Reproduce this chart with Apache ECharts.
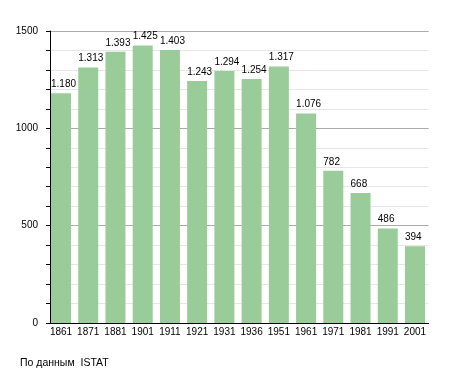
<!DOCTYPE html>
<html><head><meta charset="utf-8">
<script src="https://cdn.jsdelivr.net/npm/echarts@6/dist/echarts.min.js"></script>
<style>html,body{margin:0;padding:0;background:#fff}#c{width:455px;height:373px}</style>
</head><body><div id="c"></div>
<script>
const years = ['1861','1871','1881','1901','1911','1921','1931','1936','1951','1961','1971','1981','1991','2001'];
const population = [1180,1313,1393,1425,1403,1243,1294,1254,1317,1076,782,668,486,394];
const yTicks = [0,500,1000,1500];
const sourceNote = 'По данным  ISTAT';

function fmt(v){ return v >= 1000 ? Math.floor(v/1000) + '.' + String(v%1000).padStart(3,'0') : String(v); }

const FONT = 'Liberation Sans, Arial, sans-serif';
const chart = echarts.init(document.getElementById('c'), null, {renderer:'canvas'});
chart.setOption({
  animation:false,
  textStyle:{fontFamily:FONT},
  grid:{left:47.4, right:26.4, top:31, bottom:50},
  xAxis:{
    type:'category', data:years,
    axisLine:{lineStyle:{color:'#000', width:1}},
    axisTick:{show:false},
    axisLabel:{color:'#000', fontSize:10, margin:4, interval:0}
  },
  yAxis:{
    type:'value', min:yTicks[0], max:yTicks[yTicks.length-1], interval:500,
    offset:-2.6,
    axisLine:{show:true, lineStyle:{color:'#000'}},
    axisTick:{show:true, length:4, lineStyle:{color:'#000'}},
    minorTick:{show:true, splitNumber:5, length:4, lineStyle:{color:'#000'}},
    axisLabel:{color:'#000', fontSize:10, margin:12, formatter:v=>String(v)},
    splitLine:{show:true, lineStyle:{color:'#aaaaaa', width:1}},
    minorSplitLine:{show:true, lineStyle:{color:'#e6e6e6', width:1}}
  },
  series:[{
    type:'bar', data:population, barWidth:20,
    itemStyle:{color:'#99cc99'},
    label:{show:true, position:'top', align:'left', offset:[-10,0], color:'#000', fontSize:10, distance:4,
      formatter:p=>fmt(p.value)}
  }],
  graphic:[{type:'text', left:20, top:358, style:{text:sourceNote, fill:'#000', font:'10.5px Liberation Sans, Arial, sans-serif'}}]
});
</script></body></html>
